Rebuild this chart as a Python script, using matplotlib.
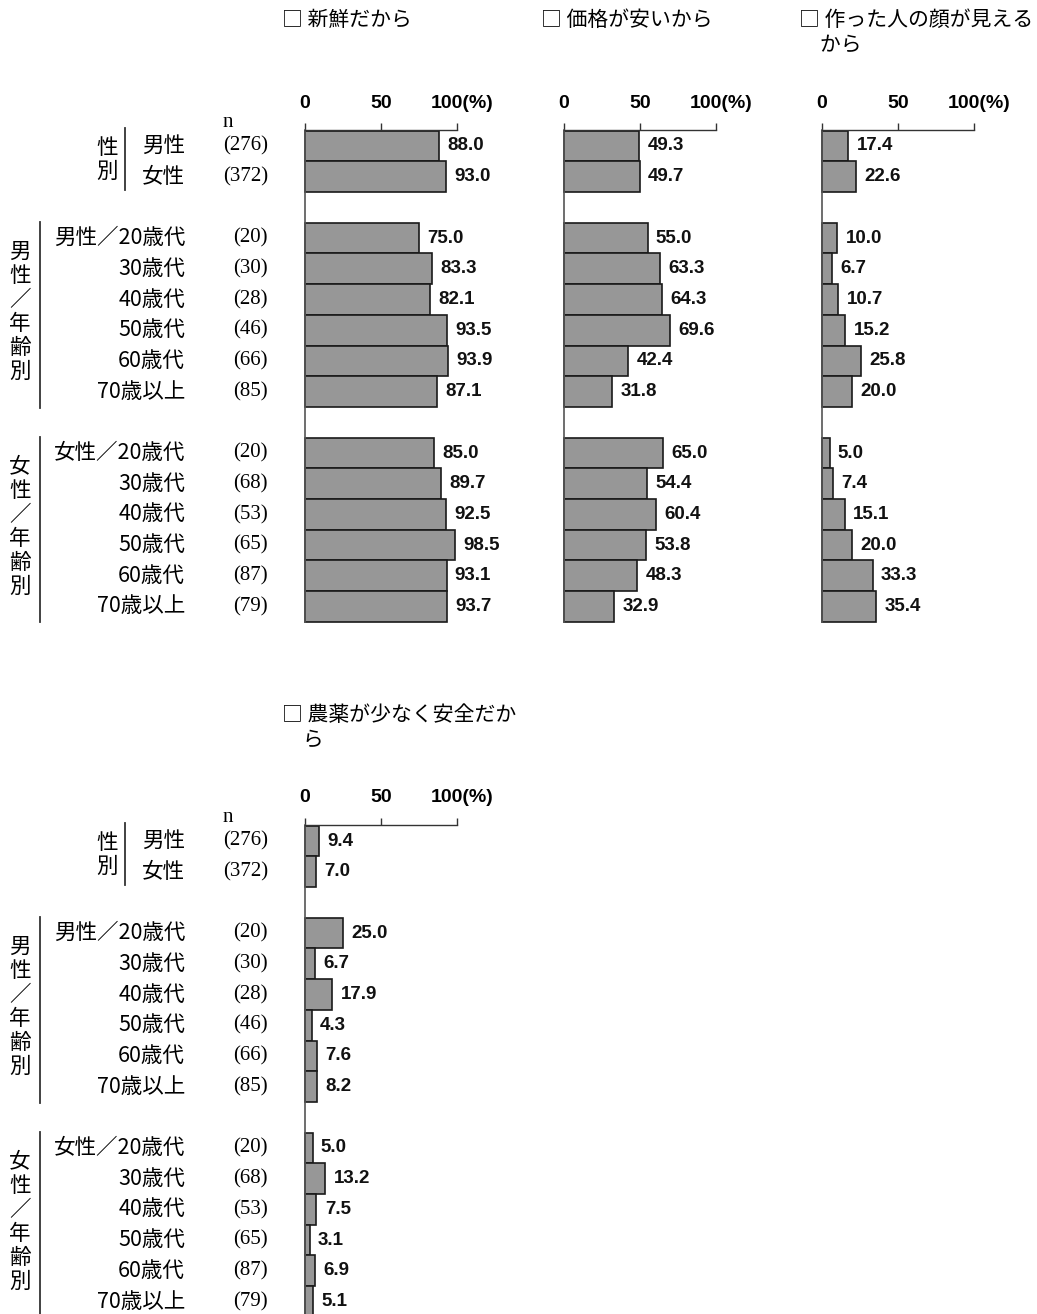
import numpy as np
import matplotlib
matplotlib.use("Agg")
import matplotlib.pyplot as plt
from matplotlib.transforms import blended_transform_factory
from matplotlib.lines import Line2D

plt.rcParams['font.family'] = ['Noto Sans CJK JP', 'DejaVu Sans']

W, H = 1037, 1314

# 行ラベルと回答者数
labels = ["男性", "女性",
          "男性／20歳代", "30歳代", "40歳代", "50歳代", "60歳代", "70歳以上",
          "女性／20歳代", "30歳代", "40歳代", "50歳代", "60歳代", "70歳以上"]
n_counts = [276, 372, 20, 30, 28, 46, 66, 85, 20, 68, 53, 65, 87, 79]
rows = [0, 1, 3, 4, 5, 6, 7, 8, 10, 11, 12, 13, 14, 15]

# 購入理由ごとの割合(%)
fresh = [88.0, 93.0, 75.0, 83.3, 82.1, 93.5, 93.9, 87.1, 85.0, 89.7, 92.5, 98.5, 93.1, 93.7]
cheap = [49.3, 49.7, 55.0, 63.3, 64.3, 69.6, 42.4, 31.8, 65.0, 54.4, 60.4, 53.8, 48.3, 32.9]
face = [17.4, 22.6, 10.0, 6.7, 10.7, 15.2, 25.8, 20.0, 5.0, 7.4, 15.1, 20.0, 33.3, 35.4]
safe = [9.4, 7.0, 25.0, 6.7, 17.9, 4.3, 7.6, 8.2, 5.0, 13.2, 7.5, 3.1, 6.9, 5.1]

titles = ["□ 新鮮だから", "□ 価格が安いから", "□ 作った人の顔が見える\n　から", "□ 農薬が少なく安全だか\n　ら"]
series = [fresh, cheap, face, safe]
# (パネル左端x, 軸線y) ピクセル
panel_pos = [(305, 130), (564, 130), (822, 130), (305, 825)]

ROW_PX = 30.7
SPAN_PX = 152

fig = plt.figure(figsize=(W / 100, H / 100), dpi=100)
fig.patch.set_facecolor("white")

num_font = dict(family="Liberation Sans", fontweight="bold")
serif_font = dict(family="Liberation Serif")


def add_panel(x0, y0, vals, title):
    top = -16 / ROW_PX
    height_rows = 15.5 - top
    ax = fig.add_axes([x0 / W, 1 - (y0 + height_rows * ROW_PX) / H,
                       SPAN_PX / W, height_rows * ROW_PX / H])
    ax.set_xlim(0, 100)
    ax.set_ylim(15.5, top)
    ax.barh(rows, vals, height=1.0, color="#979797", edgecolor="#1a1a1a",
            linewidth=1.2, clip_on=False)
    for r, v in zip(rows, vals):
        ax.text(v + 5.5, r, f"{v:.1f}", va="center", ha="left", fontsize=13.5,
                color="#111111", clip_on=False, **num_font)
    for s in ["right", "bottom"]:
        ax.spines[s].set_visible(False)
    ax.spines["left"].set_color("#555555")
    ax.spines["top"].set_color("#333333")
    ax.spines["left"].set_linewidth(1.2)
    ax.spines["top"].set_linewidth(1.0)
    ax.xaxis.tick_top()
    ax.set_xticks([0, 50, 100])
    ax.set_xticklabels([])
    ax.tick_params(axis="x", length=5, width=1, color="#333333")
    ax.set_yticks([])
    ax.patch.set_alpha(0)
    # 目盛りラベル
    ty = top - 27 / ROW_PX
    ax.text(0, ty, "0", ha="center", va="center", fontsize=14, clip_on=False, **num_font)
    ax.text(50, ty, "50", ha="center", va="center", fontsize=14, clip_on=False, **num_font)
    ax.text(83, ty, "100(%)", ha="left", va="center", fontsize=14, clip_on=False, **num_font)
    fig.text((x0 - 23) / W, 1 - (y0 - 121) / H, title, ha="left", va="top",
             fontsize=15, linespacing=1.15)
    return ax


def add_row_labels(ax):
    tr = blended_transform_factory(fig.transFigure, ax.transData)
    for r, lab, n in zip(rows, labels, n_counts):
        ax.text(185 / W, r, lab, transform=tr, ha="right", va="center", fontsize=15.5)
        ax.text(268 / W, r, f"({n})", transform=tr, ha="right", va="center",
                fontsize=15, **serif_font)
    ax.text(228 / W, -0.78, "n", transform=tr, ha="center", va="center",
            fontsize=15, **serif_font)
    # 区分ラベル(縦書き)
    ax.text(107 / W, 0.45, "性\n別", transform=tr, ha="center", va="center",
            fontsize=15.5, linespacing=1.15)
    ax.text(20 / W, 5.4, "男\n性\n／\n年\n齢\n別", transform=tr, ha="center",
            va="center", fontsize=15.5, linespacing=1.12)
    ax.text(20 / W, 12.4, "女\n性\n／\n年\n齢\n別", transform=tr, ha="center",
            va="center", fontsize=15.5, linespacing=1.12)
    for x, y_a, y_b in [(125, -0.59, 1.43), (40, 2.48, 8.53), (40, 9.48, 15.5)]:
        fig.add_artist(Line2D([x / W, x / W], [y_a, y_b], transform=tr,
                              color="#333333", linewidth=1.3))


for (x0, y0), vals, title in zip(panel_pos, series, titles):
    ax = add_panel(x0, y0, vals, title)
    if x0 == 305:
        add_row_labels(ax)

fig.savefig("out.png", dpi=100, facecolor="white")
